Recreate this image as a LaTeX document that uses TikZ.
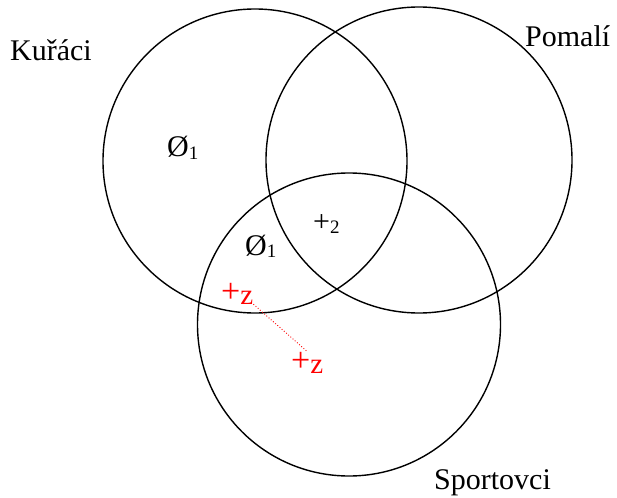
\documentclass[tikz,border=0pt]{standalone}
\usepackage{fontspec}
\setmainfont{Liberation Serif}
\begin{document}
\begin{tikzpicture}[x=1pt,y=-1pt,
  setcircle/.style={draw=black,line width=1.4pt},
  lbl/.style={inner sep=0pt,anchor=base west,font=\fontsize{30}{36}\selectfont},
  redlbl/.style={inner sep=0pt,anchor=base west,text=red,font=\fontsize{34}{40}\selectfont},
  link/.style={draw=red,dotted,line width=0.9pt}]
\useasboundingbox (0,0) rectangle (617,497);
\draw[setcircle] (255,161) circle[radius=152pt];
\draw[setcircle] (419,160) circle[radius=153pt];
\draw[setcircle] (349,324.5) circle[radius=151.5pt];
\node[lbl] (kuraci) at (10,61) {Kuřáci};
\node[lbl] (pomali) at (525,47) {Pomalí};
\node[lbl] (sportovci) at (434,489) {Sportovci};
\node[lbl] (e1) at (167,157) {Ø\raisebox{-2pt}{\fontsize{19}{19}\selectfont 1}};
\node[lbl] (e2) at (245,255) {Ø\raisebox{-2pt}{\fontsize{19}{19}\selectfont 1}};
\node[lbl,font=\fontsize{30}{34}\selectfont] (p2) at (313,231) {+\raisebox{-2pt}{\fontsize{19}{19}\selectfont 2}};
\node[redlbl] (z1) at (221,302) {+\raisebox{-2pt}{\fontsize{29}{29}\selectfont z}};
\node[redlbl] (z2) at (291,371) {+\raisebox{-2pt}{\fontsize{29}{29}\selectfont z}};
\draw[link] (z1.south east) -- (z2.north);
\end{tikzpicture}
\end{document}
